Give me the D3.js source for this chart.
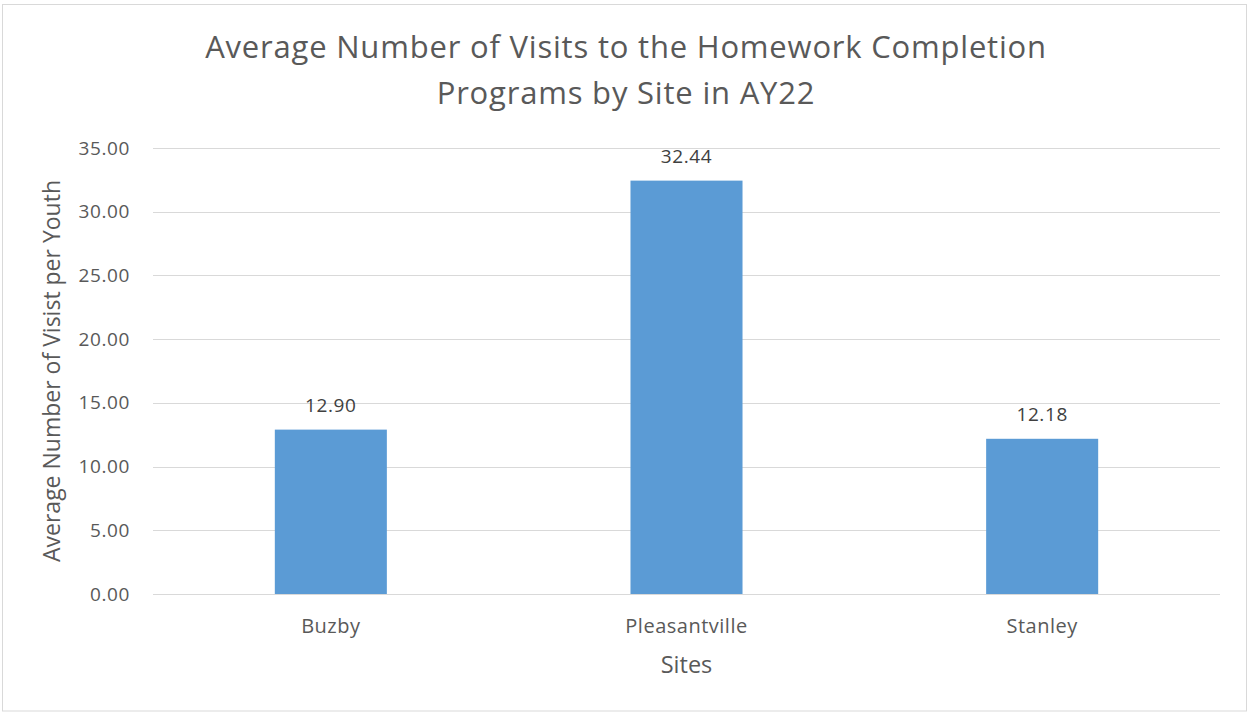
<!DOCTYPE html>
<html>
<head>
<meta charset="utf-8">
<script src="https://cdn.jsdelivr.net/npm/d3@7"></script>
<style>
  body { margin: 0; background: #fff; }
  text { font-family: "Open Sans", "Noto Sans", sans-serif; fill: #595959; }
</style>
</head>
<body>
<div id="chart"></div>
<script>
// data
var sites = ["Buzby", "Pleasantville", "Stanley"];
var avgVisits = [12.90, 32.44, 12.18];
var yTicks = [0, 5, 10, 15, 20, 25, 30, 35];
var titleLines = ["Average Number of Visits to the Homework Completion", "Programs by Site in AY22"];

var width = 1249, height = 713;
var margin = { top: 148, right: 29, bottom: 119, left: 153 };

var svg = d3.select("#chart").append("svg")
    .attr("width", width)
    .attr("height", height);

// chart frame
svg.append("rect")
    .attr("x", 2.5).attr("y", 4.5)
    .attr("width", width - 5).attr("height", height - 2 - 4.5)
    .style("fill", "none")
    .style("stroke", "#d9d9d9")
    .style("stroke-width", 1);

var x = d3.scaleBand()
    .domain(sites)
    .range([margin.left, width - margin.right])
    .paddingInner(0.685)
    .paddingOuter(0.3425);

var y = d3.scaleLinear()
    .domain([0, 35])
    .range([height - margin.bottom, margin.top]);

// gridlines
svg.append("g")
    .attr("class", "grid")
    .selectAll("line")
    .data(yTicks)
    .enter()
    .append("line")
    .attr("x1", margin.left)
    .attr("x2", width - margin.right)
    .attr("y1", function (d) { return Math.round(y(d)) + 0.5; })
    .attr("y2", function (d) { return Math.round(y(d)) + 0.5; })
    .style("stroke", "#d9d9d9")
    .style("stroke-width", 1);

// y axis labels
var yAxis = d3.axisLeft(y)
    .tickValues(yTicks)
    .tickSize(0)
    .tickPadding(23)
    .tickFormat(d3.format(".2f"));
var gy = svg.append("g")
    .attr("transform", "translate(" + margin.left + ",0)")
    .call(yAxis);
gy.select(".domain").remove();
gy.selectAll("text")
    .style("font-family", null)
    .style("font-size", "19px")
    .style("letter-spacing", "0.6px")
    .style("fill", "#595959");
gy.attr("font-family", null);

// bars
svg.append("g")
    .selectAll("rect")
    .data(avgVisits)
    .enter()
    .append("rect")
    .attr("x", function (d, i) { return x(sites[i]); })
    .attr("y", function (d) { return y(d); })
    .attr("width", x.bandwidth())
    .attr("height", function (d) { return y(0) - y(d); })
    .style("fill", "#5b9bd5");

// data labels
svg.append("g")
    .selectAll("text")
    .data(avgVisits)
    .enter()
    .append("text")
    .attr("x", function (d, i) { return x(sites[i]) + x.bandwidth() / 2; })
    .attr("y", function (d) { return y(d) - 18; })
    .attr("text-anchor", "middle")
    .style("font-size", "19px")
    .style("letter-spacing", "0.6px")
    .style("fill", "#404040")
    .text(function (d) { return d3.format(".2f")(d); });

// x axis labels
var xAxis = d3.axisBottom(x).tickSize(0).tickPadding(25);
var gx = svg.append("g")
    .attr("transform", "translate(0," + y(0) + ")")
    .call(xAxis);
gx.select(".domain").remove();
gx.attr("font-family", null);
gx.selectAll("text")
    .style("font-size", "20px")
    .style("letter-spacing", "0.5px")
    .style("fill", "#595959");

// title
svg.append("text")
    .attr("x", 626)
    .attr("y", 58)
    .attr("text-anchor", "middle")
    .style("font-size", "31px")
    .style("letter-spacing", "0.8px")
    .selectAll("tspan")
    .data(titleLines)
    .enter()
    .append("tspan")
    .attr("x", 626)
    .attr("dy", function (d, i) { return i === 0 ? 0 : 46; })
    .text(function (d) { return d; });

// axis titles
svg.append("text")
    .attr("x", (margin.left + width - margin.right) / 2)
    .attr("y", 673)
    .attr("text-anchor", "middle")
    .style("font-size", "23.5px")
    .text("Sites");

svg.append("text")
    .attr("transform", "translate(60," + ((margin.top + height - margin.bottom) / 2) + ") rotate(-90)")
    .attr("text-anchor", "middle")
    .style("font-size", "23px")
    .text("Average Number of Visist per Youth");
</script>
</body>
</html>
